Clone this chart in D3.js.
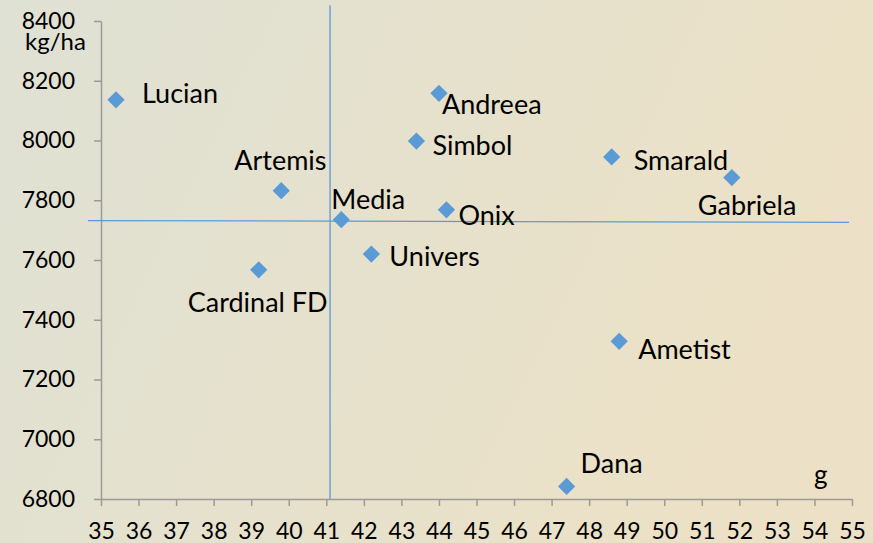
<!DOCTYPE html>
<html>
<head>
<meta charset="utf-8">
<script src="https://cdn.jsdelivr.net/npm/d3@7"></script>
<style>
  html, body { margin: 0; padding: 0; }
  svg { display: block; font-family: Lato, "Open Sans", sans-serif; }
</style>
</head>
<body>
<svg id="chart" width="873" height="543"></svg>
<script>
// varieties: thousand-grain weight (g) vs yield (kg/ha)
const names = ["Lucian", "Andreea", "Simbol", "Smarald", "Gabriela", "Artemis",
               "Media", "Onix", "Univers", "Cardinal FD", "Ametist", "Dana"];
const grainWeight = [35.4, 44.0, 43.4, 48.6, 51.8, 39.8, 41.4, 44.2, 42.2, 39.2, 48.8, 47.4];
const yieldKg = [8136, 8158, 7998, 7945, 7876, 7832, 7735, 7768, 7620, 7567, 7328, 6842];

const xTicks = d3.range(35, 56, 1);
const yTicks = [6800, 7000, 7200, 7400, 7600, 7800, 8000, 8200, 8400];

// reference cross lines
const refX = 41.1;
const refYLine = [[34.65, 7732], [54.92, 7726]];

// label offsets (px) as placed in the original chart
const labelPos = {
  "Lucian": [26, 3], "Andreea": [3, 21], "Simbol": [16, 14], "Smarald": [22, 13],
  "Gabriela": [-34, 37], "Artemis": [-47, -21], "Media": [-10, -11], "Onix": [12, 15],
  "Univers": [18, 12], "Cardinal FD": [-71, 42], "Ametist": [19, 18], "Dana": [14, -13]
};

const data = names.map((n, i) => ({ name: n, x: grainWeight[i], y: yieldKg[i] }));

const svg = d3.select("#chart");

// background gradient
const grad = svg.append("defs").append("linearGradient")
    .attr("id", "bg").attr("x1", "0").attr("y1", "0").attr("x2", "1").attr("y2", "0.3");
grad.append("stop").attr("offset", "0%").attr("stop-color", "#dfe1d4");
grad.append("stop").attr("offset", "100%").attr("stop-color", "#ece1c6");
svg.append("rect").attr("width", 873).attr("height", 543).attr("fill", "url(#bg)");

const x = d3.scaleLinear().domain([35, 55]).range([101, 852]);
const y = d3.scaleLinear().domain([6800, 8400]).range([499, 21]);

// axes
const xAxis = svg.append("g")
    .attr("transform", `translate(0,${y(6800)})`)
    .call(d3.axisBottom(x).tickValues(xTicks).tickSize(7).tickSizeOuter(0).tickPadding(17));
const yAxis = svg.append("g")
    .attr("transform", `translate(${x(35)},0)`)
    .call(d3.axisLeft(y).tickValues(yTicks).tickSize(7).tickSizeOuter(0).tickPadding(19).tickFormat(d3.format("d")));

[xAxis, yAxis].forEach(a => {
  a.select(".domain").attr("stroke", "#9a9a9a").attr("stroke-width", 1.5);
  a.selectAll(".tick line").attr("stroke", "#9a9a9a").attr("stroke-width", 1.5);
  a.selectAll(".tick text").attr("fill", "#000").attr("font-size", 23)
      .attr("font-family", "Lato, sans-serif");
});

// unit labels
svg.append("text").attr("x", 25).attr("y", 50).attr("font-size", 24).text("kg/ha");
svg.append("text").attr("x", 814).attr("y", 484).attr("font-size", 26).text("g");

// reference lines
svg.append("line")
    .attr("x1", x(refX)).attr("x2", x(refX))
    .attr("y1", y(8453)).attr("y2", y(6800))
    .attr("stroke", "#5b9bd5").attr("stroke-width", 1.3);
svg.append("line")
    .attr("x1", x(refYLine[0][0])).attr("y1", y(refYLine[0][1]))
    .attr("x2", x(refYLine[1][0])).attr("y2", y(refYLine[1][1]))
    .attr("stroke", "#5b9bd5").attr("stroke-width", 1.3);

// points
const diamond = d3.symbol().type(d3.symbolDiamond2).size(190);
svg.append("g").selectAll("path")
  .data(data)
  .enter().append("path")
    .attr("d", diamond)
    .attr("transform", d => `translate(${x(d.x)},${y(d.y)})`)
    .attr("fill", "#5b9bd5");

// point labels
svg.append("g").selectAll("text")
  .data(data)
  .enter().append("text")
    .attr("x", d => x(d.x) + labelPos[d.name][0])
    .attr("y", d => y(d.y) + labelPos[d.name][1])
    .attr("font-size", 27)
    .attr("fill", "#000")
    .text(d => d.name);
</script>
</body>
</html>
